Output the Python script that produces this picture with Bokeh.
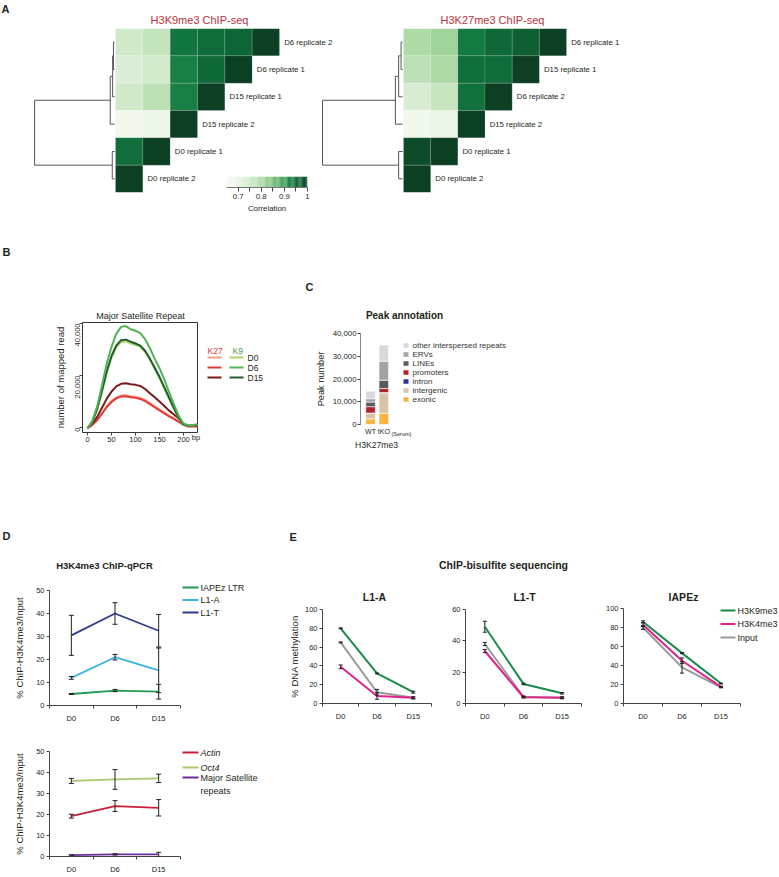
import math
from bokeh.plotting import figure
from bokeh.models import (Range1d, FixedTicker, ColumnDataSource, Whisker, TeeHead,
                          LinearColorMapper, NumeralTickFormatter)
from bokeh.core.properties import value
from bokeh.embed import file_html
from bokeh.resources import INLINE

FONT = "Liberation Sans"
INK = "#231f20"

# ---------------- Panel A data ----------------
left_order = ["D6 replicate 2", "D6 replicate 1", "D15 replicate 1",
              "D15 replicate 2", "D0 replicate 1", "D0 replicate 2"]
left_corr = [[0.755, 0.77, 0.935, 0.95, 0.96, 1.0],
             [0.73, 0.75, 0.925, 0.955, 1.0],
             [0.755, 0.78, 0.925, 1.0],
             [0.675, 0.69, 1.0],
             [0.945, 1.0],
             [1.0]]
left_merges = [(0, 1, 0.025), (6, 2, 0.035), (7, 3, 0.065), (4, 5, 0.04), (8, 9, 1.0)]

right_order = ["D6 replicate 1", "D15 replicate 1", "D6 replicate 2",
               "D15 replicate 2", "D0 replicate 1", "D0 replicate 2"]
right_corr = [[0.80, 0.815, 0.93, 0.955, 0.965, 1.0],
              [0.78, 0.80, 0.945, 0.95, 1.0],
              [0.74, 0.765, 0.94, 1.0],
              [0.675, 0.70, 1.0],
              [0.985, 1.0],
              [1.0]]
right_merges = [(0, 1, 0.03), (6, 2, 0.06), (7, 3, 0.1), (4, 5, 0.06), (8, 9, 1.0)]

cbar_ticks = [0.7, 0.8, 0.9, 1.0]

# ---------------- Panel B data ----------------
bp = [0, 10, 20, 30, 40, 50, 60, 70, 80, 90, 100, 110, 120, 130, 140, 150, 160, 170, 180, 190, 200, 210, 220, 230]
k9_d0 = [-300, 2100, 6800, 13600, 21000, 26800, 30800, 32900, 33100, 32300, 31800, 31000, 29000, 26000, 22500, 19000, 15000, 11000, 7200, 3600, 1100, 700, 800, 1000]
k9_d6 = [-300, 2500, 8000, 16000, 24500, 31000, 36000, 38700, 39000, 37800, 37200, 36300, 34000, 30500, 26500, 22800, 18500, 13500, 9000, 4500, 1500, 900, 1000, 1300]
k9_d15 = [-300, 2200, 7000, 14000, 21500, 27500, 31500, 33600, 33800, 33000, 32300, 31500, 29500, 26500, 23000, 19500, 15500, 11500, 7500, 3800, 1200, 800, 900, 1100]
k27_d0 = [-300, 1100, 3000, 5500, 8200, 10200, 11600, 12300, 12400, 12000, 11800, 11400, 10600, 9400, 8200, 7000, 5800, 4600, 3500, 2400, 1100, 500, 500, 600]
k27_d6 = [-300, 1000, 2800, 5200, 7800, 9800, 11200, 11900, 12000, 11600, 11400, 11000, 10200, 9000, 7800, 6600, 5400, 4300, 3300, 2200, 1000, 400, 400, 500]
k27_d15 = [-300, 1500, 4000, 7500, 11000, 13800, 15800, 16800, 17000, 16600, 16400, 16000, 14800, 13200, 11600, 10000, 8300, 6500, 5000, 3500, 1500, 600, 600, 700]
b_xticks = [0, 50, 100, 150, 200]
b_yticks = [0, 20000, 40000]

# ---------------- Panel C data ----------------
c_groups = ["WT", "tKO"]
c_cats = ["exonic", "intergenic", "intron", "promoters", "LINEs", "ERVs", "other interspersed repeats"]
c_wt = [2500, 2400, 150, 2800, 2000, 1500, 3300]
c_tko = [4900, 9000, 150, 1750, 3700, 8300, 7100]
c_yticks = [0, 10000, 20000, 30000, 40000]

# ---------------- Panel D data ----------------
days = ["D0", "D6", "D15"]
d_top = {"IAPEz LTR": ([5.0, 6.5, 6.0], [0.2, 0.5, 3.2]),
         "L1-A": ([12.0, 21.0, 15.3], [0.6, 1.2, 9.7]),
         "L1-T": ([30.5, 40.0, 32.5], [8.7, 4.7, 7.1])}
d_bot = {"Actin": ([19.2, 24.0, 23.2], [0.9, 2.6, 3.9]),
         "Oct4": ([36.0, 36.7, 37.2], [1.2, 4.7, 2.0]),
         "Major Satellite repeats": ([0.7, 1.0, 1.0], [0.1, 0.3, 1.0])}
d_yticks = [0, 10, 20, 30, 40, 50]

# ---------------- Panel E data ----------------
e_l1a = {"Input": ([65, 12, 6], [0.5, 3, 1]),
         "H3K4me3": ([39, 8, 6], [2, 3.5, 1]),
         "H3K9me3": ([80, 32, 12], [0.5, 0.5, 1])}
e_l1t = {"Input": ([38, 4.3, 3.5], [1, 0.5, 0.5]),
         "H3K4me3": ([33.5, 4, 3.8], [1, 0.5, 0.5]),
         "H3K9me3": ([49, 12.5, 6.5], [3.5, 0.5, 0.5])}
e_iap = {"Input": ([80, 38, 17], [2, 6, 0.5]),
         "H3K4me3": ([83, 45, 17.5], [2, 3, 0.5]),
         "H3K9me3": ([86, 53, 21], [1, 0.5, 0.5])}

# ---------------- styles ----------------
COL_B = {"k27_d0": "#f4a27c", "k27_d6": "#e5383b", "k27_d15": "#7a1b1d",
         "k9_d0": "#b0d466", "k9_d6": "#4fb253", "k9_d15": "#1f5c30"}
COL_C = ["#f5b53f", "#d9c2a5", "#283593", "#b2222b", "#5b5b5b", "#a3a3a3", "#d9d9d9"]
COL_D = {"IAPEz LTR": "#1f9a55", "L1-A": "#3bb3e3", "L1-T": "#2f3c8c",
         "Actin": "#c8203a", "Oct4": "#a7c86c", "Major Satellite repeats": "#6b2d9c"}
COL_E = {"H3K9me3": "#1a8c4a", "H3K4me3": "#e0238a", "Input": "#9a9a9a"}

roots = []


def mkfig(x0, y0, x1, y1, xr, yr, bl=50, br=10, bt=10, bb=40):
    p = figure(width=int(x1 - x0 + bl + br), height=int(y1 - y0 + bt + bb),
               x_range=xr, y_range=yr,
               min_border_left=bl, min_border_right=br, min_border_top=bt, min_border_bottom=bb,
               output_backend="svg", toolbar_location=None)
    p.styles = {"position": "absolute", "left": f"{int(x0 - bl)}px", "top": f"{int(y0 - bt)}px"}
    p.background_fill_color = None
    p.border_fill_color = None
    p.outline_line_color = None
    p.grid.visible = False
    roots.append(p)
    return p


def style_axis(ax, size="7.5px", lsize="9.5px"):
    ax.major_label_text_font = FONT
    ax.major_label_text_font_size = size
    ax.major_label_text_color = INK
    ax.axis_label_text_font = FONT
    ax.axis_label_text_font_style = "normal"
    ax.axis_label_text_font_size = lsize
    ax.axis_label_text_color = INK
    ax.axis_line_color = "#444444"
    ax.major_tick_line_color = "#444444"
    ax.minor_tick_line_color = "#444444"
    ax.major_tick_in = 0
    ax.minor_tick_in = 0
    ax.major_tick_out = 3
    ax.minor_tick_out = 0


# ---------------- colour map for heatmaps ----------------
stops = [(0.65, "#f7fbf5"), (0.70, "#eaf5e6"), (0.75, "#d2eacc"), (0.80, "#aedaa6"),
         (0.85, "#7cc27c"), (0.90, "#3d9f5a"), (0.93, "#137a42"), (0.96, "#0e6536"), (1.0, "#0d3f22")]


def hex2rgb(h):
    return tuple(int(h[i:i + 2], 16) for i in (1, 3, 5))


palette = []
for i in range(256):
    v = 0.65 + 0.35 * i / 255
    for (a, ca), (b, cb) in zip(stops[:-1], stops[1:]):
        if a <= v <= b:
            t = (v - a) / (b - a)
            r1, g1, b1 = hex2rgb(ca)
            r2, g2, b2 = hex2rgb(cb)
            palette.append("#%02x%02x%02x" % (round(r1 + (r2 - r1) * t), round(g1 + (g2 - g1) * t), round(b1 + (b2 - b1) * t)))
            break
mapper = LinearColorMapper(palette=palette, low=0.65, high=1.0)


def heat_fig(order, corr, merges, x_left, cell, y_top, y_bot, H):
    n = len(order)
    fx0 = round(x_left - 3.15 * cell)
    fx1 = round(x_left + 8.4 * cell)
    xr = Range1d((fx0 - x_left) / cell, (fx1 - x_left) / cell)
    p = mkfig(fx0, y_top, fx1, y_bot, xr, Range1d(0, n), bl=2, br=2, bt=2, bb=2)
    p.axis.visible = False
    xs, ys, vs = [], [], []
    for r, row in enumerate(corr):
        for c, v in enumerate(row):
            xs.append(c + 0.5)
            ys.append(n - 0.5 - r)
            vs.append(v)
    p.rect(x="x", y="y", width=1, height=1, source=ColumnDataSource(dict(x=xs, y=ys, v=vs)),
           fill_color={"field": "v", "transform": mapper}, line_color="white", line_alpha=0.25, line_width=0.5)
    p.text(x=[n - r + 0.17 for r in range(n)], y=[n - 0.5 - r for r in range(n)], text=order,
           text_font=value(FONT), text_font_size="7.8px", text_baseline="middle", text_color=INK)
    # dendrogram
    pos = {i: (0.0, n - 0.5 - i) for i in range(n)}
    sx0, sy0, sx1, sy1 = [], [], [], []
    for k, (a, b, h) in enumerate(merges):
        xa, ya = pos[a]
        xb, yb = pos[b]
        xm = -h * H
        for (xx, yy) in ((xa, ya), (xb, yb)):
            sx0.append(xx - (0.03 if xx == 0 else 0)); sy0.append(yy); sx1.append(xm); sy1.append(yy)
        sx0.append(xm); sy0.append(ya); sx1.append(xm); sy1.append(yb)
        pos[n + k] = (xm, (ya + yb) / 2)
    p.segment(x0=sx0, y0=sy0, x1=sx1, y1=sy1, line_color="#555555", line_width=1)
    return p


heat_fig(left_order, left_corr, left_merges, 115, 27.33, 28, 192, 2.96)
heat_fig(right_order, right_corr, right_merges, 403, 27.17, 28, 192, 2.98)

# colour bar
cb = mkfig(226, 176, 307, 187, Range1d(0.65, 1.0), Range1d(0, 1), bl=10, br=10, bt=4, bb=36)
steps = [0.65 + (i + 0.5) * 0.005 for i in range(70)]
cb.rect(x=steps, y=[0.5] * len(steps), width=0.0052, height=1,
        fill_color={"field": "x", "transform": mapper}, line_color=None)
cb.yaxis.visible = False
style_axis(cb.xaxis, size="7.8px", lsize="7.8px")
cb.xaxis.ticker = FixedTicker(ticks=cbar_ticks, minor_ticks=[0.75, 0.85, 0.95])
cb.xaxis.formatter = NumeralTickFormatter(format="0.[0]")
cb.xaxis.major_tick_out = 4
cb.xaxis.minor_tick_out = 4
cb.xaxis.major_label_standoff = 2
cb.xaxis.axis_label = "Correlation"
cb.xaxis.axis_label_standoff = 2
cb.xaxis.axis_line_color = "#777777"

# ---------------- Panel B ----------------
pb = mkfig(82, 322, 197, 432, Range1d(-10.4, 229.2), Range1d(-1923, 40385), bl=45, br=5, bt=5, bb=25)
pb.outline_line_color = "#333333"
for key, ys in (("k27_d0", k27_d0), ("k27_d6", k27_d6), ("k27_d15", k27_d15),
                ("k9_d0", k9_d0), ("k9_d15", k9_d15), ("k9_d6", k9_d6)):
    pb.line(bp, ys, line_color=COL_B[key], line_width=2)
style_axis(pb.xaxis, size="7.5px")
style_axis(pb.yaxis, size="7.5px", lsize="9.5px")
pb.axis.axis_line_color = None
pb.xaxis.ticker = FixedTicker(ticks=b_xticks)
pb.yaxis.ticker = FixedTicker(ticks=b_yticks)
pb.yaxis.formatter = NumeralTickFormatter(format="0,0")
pb.yaxis.major_label_orientation = math.pi / 2
pb.xaxis.major_label_standoff = 1
pb.yaxis.major_label_standoff = 2
pb.yaxis.axis_label = "number of mapped read"
pb.yaxis.axis_label_standoff = 4

# ---------------- Panel C ----------------
pc = mkfig(357, 333, 392, 424, Range1d(0.241, 2.655), Range1d(0, 40000), bl=45, br=25, bt=5, bb=42)
csrc = dict(x=[1, 2])
for cat, a, b in zip(c_cats, c_wt, c_tko):
    csrc[cat] = [a, b]
pc.vbar_stack(c_cats, x="x", width=0.72, color=COL_C, line_color="white", line_width=0.6,
              source=ColumnDataSource(csrc))
style_axis(pc.yaxis, size="7.8px", lsize="9.2px")
style_axis(pc.xaxis, size="7.1px", lsize="8.6px")
pc.yaxis.ticker = FixedTicker(ticks=c_yticks)
pc.yaxis.formatter = NumeralTickFormatter(format="0,0")
pc.yaxis.axis_line_color = "#888888"
pc.yaxis.major_label_standoff = 1
pc.yaxis.axis_label = "Peak number"
pc.yaxis.axis_label_standoff = 4
pc.xaxis.ticker = FixedTicker(ticks=[1, 2])
pc.xaxis.major_label_overrides = {1: c_groups[0], 2: c_groups[1]}
pc.xaxis.axis_line_color = None
pc.xaxis.major_tick_out = 0
pc.xaxis.major_label_standoff = 3
pc.xaxis.axis_label = "H3K27me3"
pc.xaxis.axis_label_standoff = 1


# ---------------- helpers for line charts ----------------
def err(p, xs, ys, es, size=5):
    src = ColumnDataSource(dict(x=xs, lo=[y - e for y, e in zip(ys, es)], hi=[y + e for y, e in zip(ys, es)]))
    w = Whisker(source=src, base="x", lower="lo", upper="hi", line_color=INK, line_width=1,
                upper_head=TeeHead(size=size, line_color=INK, line_width=1),
                lower_head=TeeHead(size=size, line_color=INK, line_width=1), level="overlay")
    p.add_layout(w)


def cat_axes(p, yticks, ylabel=None, standoff=6):
    style_axis(p.xaxis, size="7.5px")
    style_axis(p.yaxis, size="7.5px", lsize="9.5px")
    p.xaxis.ticker = FixedTicker(ticks=[0.5, 1.5, 2.5], minor_ticks=[0, 1, 2, 3])
    p.xaxis.major_label_overrides = {0.5: days[0], 1.5: days[1], 2.5: days[2]}
    p.xaxis.major_tick_out = 0
    p.xaxis.minor_tick_out = 3
    p.xaxis.major_label_standoff = 5
    p.yaxis.ticker = FixedTicker(ticks=yticks)
    p.yaxis.major_label_standoff = 2
    if ylabel:
        p.yaxis.axis_label = ylabel
        p.yaxis.axis_label_standoff = standoff


def line_panel(p, series, colors, width=1.8, cap=5):
    xs = [i + 0.5 for i in range(len(days))]
    for name, (ys, es) in series.items():
        p.line(xs, ys, line_color=colors[name], line_width=width)
    for name, (ys, es) in series.items():
        err(p, xs, ys, es, cap)


# ---------------- Panel D ----------------
pd1 = mkfig(49, 590, 180, 705, Range1d(0, 3), Range1d(0, 50), bl=45, br=5, bt=5, bb=25)
line_panel(pd1, d_top, COL_D)
cat_axes(pd1, d_yticks, "% ChIP-H3K4me3/Input", 8)

pd2 = mkfig(49, 751, 180, 866, Range1d(0, 3), Range1d(0, 50), bl=45, br=5, bt=5, bb=10)
line_panel(pd2, d_bot, COL_D)
cat_axes(pd2, d_yticks, "% ChIP-H3K4me3/Input", 8)

# ---------------- Panel E ----------------
pe1 = mkfig(315, 609, 431, 703, Range1d(0, 3), Range1d(0, 100), bl=30, br=5, bt=5, bb=25)
line_panel(pe1, e_l1a, COL_E, 2.0, 4)
cat_axes(pe1, [0, 20, 40, 60, 80, 100], "% DNA methylation", 2)

pe2 = mkfig(465, 609, 581, 703, Range1d(0, 3), Range1d(0, 60), bl=30, br=5, bt=5, bb=25)
line_panel(pe2, e_l1t, COL_E, 2.0, 4)
cat_axes(pe2, [0, 20, 40, 60])

pe3 = mkfig(623, 608, 740, 703, Range1d(0, 3), Range1d(0, 100), bl=30, br=5, bt=5, bb=25)
line_panel(pe3, e_iap, COL_E, 2.0, 4)
cat_axes(pe3, [0, 20, 40, 60, 80, 100])

# ---------------- overlay: panel letters, titles, legends ----------------
ov = figure(width=779, height=877, x_range=Range1d(0, 779), y_range=Range1d(877, 0),
            x_axis_location=None, y_axis_location=None, min_border=0,
            output_backend="svg", toolbar_location=None)
ov.styles = {"position": "absolute", "left": "0px", "top": "0px"}
ov.background_fill_color = None
ov.border_fill_color = None
ov.outline_line_color = None
ov.grid.visible = False
roots.append(ov)


def T(txt, x, y, size, align="left", base="alphabetic", style="normal", color=INK):
    ov.text(x=[x], y=[y], text=[txt], text_font=value(FONT), text_font_size=f"{size}px",
            text_align=align, text_baseline=base, text_font_style=style, text_color=color)


for letter, lx, ly in (("A", 1, 8.5), ("B", 2, 251), ("C", 305, 286.5), ("D", 2, 535), ("E", 289, 536)):
    T(letter, lx, ly, 11, style="bold")

T("H3K9me3 ChIP-seq", 199, 19, 11, align="center", color="#c0313a")
T("H3K27me3 ChIP-seq", 492, 19, 11, align="center", color="#c0313a")
T("Major Satellite Repeat", 140, 315.5, 9, align="center")
T("bp", 195.5, 437, 7.5, align="center", base="middle")
T("Peak annotation", 404, 315, 10, align="center", style="bold")
T("(Serum)", 391, 433, 5.5, base="middle")
T("H3K4me3 ChIP-qPCR", 104, 565, 9.5, align="center", style="bold")
T("ChIP-bisulfite sequencing", 503, 564, 10.5, align="center", style="bold")
T("L1-A", 374, 596, 10.5, align="center", style="bold")
T("L1-T", 524, 596, 10.5, align="center", style="bold")
T("IAPEz", 683, 596, 10.5, align="center", style="bold")

# legend B
T("K27", 207, 350.5, 8.5, color="#d43d3d")
T("K9", 232, 350.5, 8.5, color="#3d9a3d")
for i, d in enumerate(days):
    yy = 357 + 10 * i
    ov.segment(x0=[207], y0=[yy], x1=[221], y1=[yy], line_color=COL_B["k27_" + d.lower()], line_width=2.2)
    ov.segment(x0=[229], y0=[yy], x1=[243], y1=[yy], line_color=COL_B["k9_" + d.lower()], line_width=2.2)
    T(d, 247, yy, 8.5, base="middle")

# legend C
for i, (cat, col) in enumerate(zip(c_cats[::-1], COL_C[::-1])):
    yy = 345 + 9 * i
    ov.rect(x=[405.5], y=[yy], width=5, height=4.5, fill_color=col, line_color=None)
    T(cat, 412, yy, 8, base="middle", color="#333333")

# legend D
for i, name in enumerate(d_top):
    yy = 587 + 12.5 * i
    ov.segment(x0=[182], y0=[yy], x1=[198], y1=[yy], line_color=COL_D[name], line_width=2)
    T(name, 200, yy, 9, base="middle")
for name, yy in (("Actin", 752), ("Oct4", 767), ("Major Satellite repeats", 777)):
    ov.segment(x0=[182], y0=[yy], x1=[198], y1=[yy], line_color=COL_D[name], line_width=2)
T("Actin", 200, 752, 9, base="middle", style="italic")
T("Oct4", 200, 767, 9, base="middle", style="italic")
T("Major Satellite", 200, 777, 9, base="middle")
T("repeats", 200, 790, 9, base="middle")

# legend E
for i, name in enumerate(["H3K9me3", "H3K4me3", "Input"]):
    yy = 610 + 13.5 * i
    ov.segment(x0=[720], y0=[yy], x1=[735], y1=[yy], line_color=COL_E[name], line_width=2)
    T(name, 737, yy, 9, base="middle")

open("out.html", "w").write(file_html(roots, INLINE))
